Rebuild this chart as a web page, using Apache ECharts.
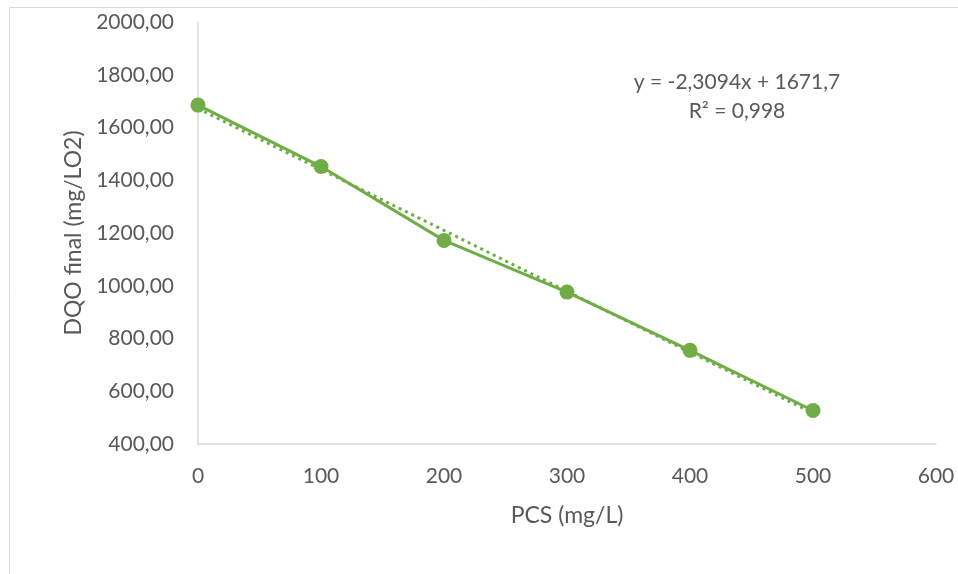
<!DOCTYPE html>
<html>
<head>
<meta charset="utf-8">
<script src="https://cdn.jsdelivr.net/npm/echarts@6/dist/echarts.min.js"></script>
<style>html,body{margin:0;padding:0;background:#fff}#c{width:958px;height:574px}</style>
</head>
<body>
<div id="c"></div>
<script>
const xValues = [0, 100, 200, 300, 400, 500];
const dqoValues = [1685, 1452, 1172, 976, 755, 527];
const trendX = [0, 500];
const trendY = [1671.7, 517.0];
const equationLabel = 'y = -2,3094x + 1671,7';
const r2Label = 'R² = 0,998';
const xTitle = 'PCS (mg/L)';
const yTitle = 'DQO final (mg/LO2)';

const FONT = 'Lato';
const TXT = '#595959';
const GREEN = '#70ad47';

const chart = echarts.init(document.getElementById('c'), null, {renderer: 'canvas'});
chart.setOption({
  animation: false,
  backgroundColor: '#fff',
  grid: {left: 198, right: 22, top: 22, bottom: 130, containLabel: false},
  xAxis: {
    type: 'value', min: 0, max: 600, interval: 100,
    name: xTitle, nameLocation: 'middle', nameGap: 60,
    nameTextStyle: {fontFamily: FONT, fontSize: 23, color: TXT},
    axisLine: {show: true, lineStyle: {color: '#d9d9d9', width: 1.5}},
    axisTick: {show: false},
    splitLine: {show: false},
    axisLabel: {fontFamily: FONT, fontSize: 21, color: TXT, margin: 22}
  },
  yAxis: {
    type: 'value', min: 400, max: 2000, interval: 200,
    name: yTitle, nameLocation: 'middle', nameGap: 111,
    nameTextStyle: {fontFamily: FONT, fontSize: 23, color: TXT},
    axisLine: {show: true, lineStyle: {color: '#d9d9d9', width: 1.5}},
    axisTick: {show: false},
    splitLine: {show: false},
    axisLabel: {fontFamily: FONT, fontSize: 21, color: TXT, margin: 24,
      formatter: v => v.toFixed(2).replace('.', ',')}
  },
  series: [
    {
      type: 'line',
      data: trendX.map((x, i) => [x, trendY[i]]),
      showSymbol: false,
      lineStyle: {color: GREEN, width: 3, type: [3, 4]},
      z: 2
    },
    {
      type: 'line',
      data: xValues.map((x, i) => [x, dqoValues[i]]),
      symbol: 'circle', symbolSize: 15,
      itemStyle: {color: GREEN},
      lineStyle: {color: GREEN, width: 3},
      z: 3
    }
  ],
  graphic: [
    {type: 'rect', shape: {x: 9.5, y: 7.5, width: 1000, height: 1000}, style: {fill: 'none', stroke: '#d9d9d9', lineWidth: 1}, silent: true, z: -1},
    {type: 'text', x: 737, y: 82, style: {text: equationLabel, fontFamily: FONT, fontSize: 21, fill: TXT, align: 'center', verticalAlign: 'middle'}},
    {type: 'text', x: 737, y: 111, style: {text: r2Label, fontFamily: FONT, fontSize: 21, fill: TXT, align: 'center', verticalAlign: 'middle'}}
  ]
});
</script>
</body>
</html>
